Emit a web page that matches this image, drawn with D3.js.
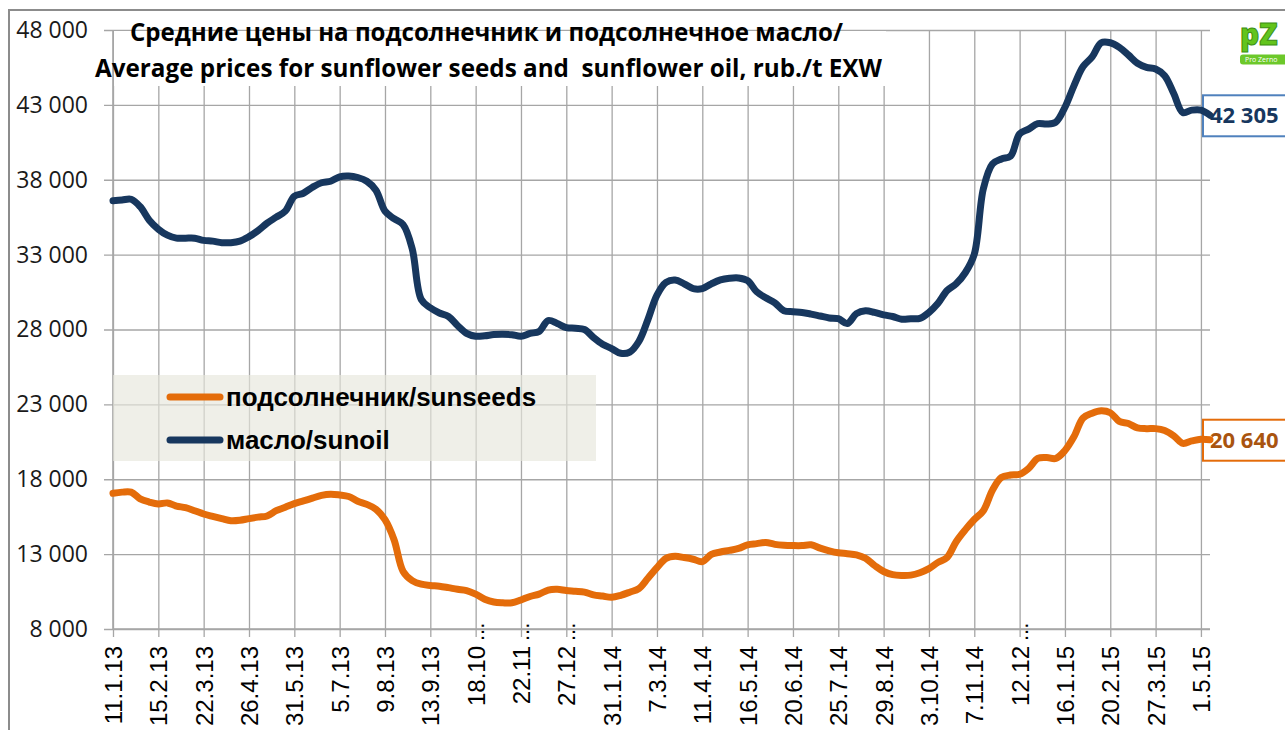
<!DOCTYPE html>
<html>
<head>
<meta charset="utf-8">
<script src="https://cdn.jsdelivr.net/npm/d3@7"></script>
<style>
  body { margin: 0; background: #fff; }
  svg { display: block; }
</style>
</head>
<body>
<div id="chart"></div>
<script>
// weekly categories 11.1.13 ... 8.5.15, every 5th one is labelled
const tickLabels = [
  '11.1.13', '15.2.13', '22.3.13', '26.4.13', '31.5.13', '5.7.13', '9.8.13', '13.9.13',
  '18.10…', '22.11…', '27.12…', '31.1.14', '7.3.14', '11.4.14', '16.5.14', '20.6.14',
  '25.7.14', '29.8.14', '3.10.14', '7.11.14', '12.12…', '16.1.15', '20.2.15', '27.3.15', '1.5.15'
];

const sunseeds = [
  17060, 17140, 17140, 16690, 16480, 16350, 16420, 16210, 16100, 15900,
  15680, 15520, 15370, 15230, 15260, 15370, 15470, 15550, 15900, 16130,
  16370, 16550, 16740, 16920, 17000, 16950, 16850, 16530, 16320, 16000,
  15300, 13960, 11840, 11230, 10990, 10910, 10860, 10760, 10650, 10570,
  10330, 9990, 9800, 9750, 9750, 9940, 10170, 10330, 10600, 10650,
  10570, 10520, 10460, 10280, 10200, 10120, 10250, 10460, 10700, 11390,
  12100, 12720, 12850, 12770, 12660, 12500, 12980, 13140, 13250, 13380,
  13620, 13700, 13780, 13650, 13590, 13570, 13570, 13620, 13400, 13220,
  13090, 13030, 12950, 12720, 12240, 11840, 11630, 11580, 11600, 11760,
  12030, 12450, 12780, 13830, 14620, 15310, 15900, 17270, 18120, 18280,
  18330, 18730, 19390, 19450, 19390, 19920, 20850, 22090, 22410, 22570,
  22440, 21860, 21720, 21430, 21380, 21380, 21250, 20900, 20400, 20560,
  20670, 20640
];

const sunoil = [
  36600, 36650, 36700, 36200, 35300, 34700, 34300, 34100, 34100, 34100,
  33950, 33900, 33800, 33800, 33900, 34200, 34600, 35100, 35500, 35900,
  36900, 37100, 37500, 37800, 37900, 38200, 38250, 38150, 37900, 37300,
  35900, 35400, 35000, 33400, 30000, 29450, 29100, 28870, 28270, 27740,
  27550, 27580, 27660, 27680, 27650, 27550, 27740, 27870, 28600, 28400,
  28130, 28080, 28000, 27470, 27020, 26730, 26410, 26490, 27200, 28660,
  30300, 31150, 31310, 31050, 30730, 30730, 31050, 31310, 31420, 31440,
  31260, 30520, 30120, 29780, 29250, 29190, 29140, 29030, 28900, 28770,
  28720, 28400, 29060, 29250, 29140, 28980, 28870, 28690, 28720, 28740,
  29140, 29750, 30600, 31050, 31790, 33030, 37400, 39050, 39390, 39580,
  41060, 41380, 41750, 41720, 41850, 42840, 44290, 45560, 46200, 47150,
  47150, 46840, 46330, 45780, 45510, 45400, 44950, 43760, 42490, 42650,
  42650, 42305
];

const yTicks = [8000, 13000, 18000, 23000, 28000, 33000, 38000, 43000, 48000];
const seriesNames = ['подсолнечник/sunseeds', 'масло/sunoil'];
const titleLines = [
  'Средние цены на подсолнечник и подсолнечное масло/',
  'Average prices for sunflower seeds and  sunflower oil, rub./t EXW'
];

(function () {
  const W = 1285, H = 730;
  const plot = { left: 113, right: 1210, top: 30, bottom: 629 };
  const gridColor = '#a6a6a6';
  const colors = { seeds: '#e46c0a', oil: '#17375e' };

  const svg = d3.select('#chart').append('svg')
    .attr('width', W).attr('height', H)
    .attr('role', 'img')
    .attr('aria-label', 'Line: average prices for sunflower seeds and sunflower oil');

  const x = d3.scaleLinear().domain([0, sunoil.length - 1]).range([plot.left, plot.right]);
  const y = d3.scaleLinear().domain([8000, 48000]).range([plot.bottom, plot.top]);

  const ru = d3.formatLocale({ decimal: ',', thousands: ' ', grouping: [3], currency: ['', ''] });
  const fmt = ru.format(',d');

  // chart frame
  svg.append('rect')
    .attr('x', 9).attr('y', 10).attr('width', W + 20).attr('height', H + 20)
    .attr('fill', '#fff').attr('stroke', '#8c8c8c').attr('stroke-width', 2);

  // horizontal grid + y labels
  const gy = svg.append('g').attr('class', 'axis y')
    .attr('transform', 'translate(104,0)')
    .call(d3.axisLeft(y).tickValues(yTicks).tickFormat(fmt)
      .tickSizeInner(-(plot.right - 104)).tickSizeOuter(0).tickPadding(16));
  gy.select('.domain').remove();
  gy.selectAll('line').attr('stroke', gridColor).attr('stroke-width', 1.3);
  gy.selectAll('text')
    .attr('fill', '#1a1a1a')
    .style('font-family', '"Open Sans", sans-serif')
    .style('font-size', '23px');

  // vertical grid + x labels
  const tickIdx = tickLabels.map((d, i) => i * 5);
  const gx = svg.append('g').attr('class', 'axis x')
    .attr('transform', 'translate(0,637)')
    .call(d3.axisBottom(x).tickValues(tickIdx)
      .tickFormat(i => tickLabels[i / 5].replace('…', ''))
      .tickSizeInner(-(637 - plot.top)).tickSizeOuter(0));
  gx.select('.domain').remove();
  gx.selectAll('line').attr('stroke', gridColor).attr('stroke-width', 1.3);
  gx.selectAll('text')
    .attr('fill', '#000')
    .attr('transform', 'rotate(-90)')
    .attr('x', -9).attr('y', 0).attr('dy', '0.35em')
    .style('text-anchor', 'end')
    .style('font-family', '"Liberation Sans", Arial, sans-serif')
    .style('font-size', '24px');
  // truncated labels: the dots sit up against the axis
  gx.selectAll('.tick').filter(i => tickLabels[i / 5].endsWith('…'))
    .append('text')
    .attr('transform', 'rotate(-90)')
    .attr('x', -4).attr('y', 0).attr('dy', '0.35em')
    .attr('fill', '#000')
    .style('text-anchor', 'start')
    .style('font-family', '"Liberation Sans", Arial, sans-serif')
    .style('font-size', '22px')
    .text('...');

  // title box over the grid
  svg.append('rect')
    .attr('x', 114).attr('y', 31).attr('width', 772).attr('height', 55)
    .attr('fill', '#fff');

  // axis lines
  svg.append('line')
    .attr('x1', plot.left).attr('x2', plot.right)
    .attr('y1', plot.bottom).attr('y2', plot.bottom)
    .attr('stroke', gridColor).attr('stroke-width', 1.6);
  svg.append('line')
    .attr('x1', plot.left).attr('x2', plot.left)
    .attr('y1', plot.top).attr('y2', plot.bottom)
    .attr('stroke', gridColor).attr('stroke-width', 1.6);

  // title
  const titleG = svg.append('g')
    .style('font-family', '"Open Sans", sans-serif')
    .style('font-weight', 700)
    .style('font-size', '25px')
    .attr('fill', '#000');
  titleG.append('text').attr('x', 130).attr('y', 41)
    .attr('textLength', 713).attr('lengthAdjust', 'spacingAndGlyphs')
    .text(titleLines[0]);
  titleG.append('text').attr('x', 95).attr('y', 77)
    .attr('textLength', 787).attr('lengthAdjust', 'spacingAndGlyphs')
    .style('white-space', 'pre')
    .text(titleLines[1]);

  // legend
  const leg = svg.append('g');
  leg.append('rect')
    .attr('x', 113).attr('y', 375).attr('width', 483).attr('height', 86)
    .attr('fill', 'rgb(230,230,220)').attr('fill-opacity', 0.65);
  const legItems = [
    { name: seriesNames[0], color: colors.seeds, y: 397 },
    { name: seriesNames[1], color: colors.oil, y: 440 }
  ];
  legItems.forEach(d => {
    leg.append('line')
      .attr('x1', 170).attr('x2', 220).attr('y1', d.y).attr('y2', d.y)
      .attr('stroke', d.color).attr('stroke-width', 7).attr('stroke-linecap', 'round');
    leg.append('text')
      .attr('x', 226).attr('y', d.y + 9)
      .attr('fill', '#000')
      .style('font-family', '"Liberation Sans", Arial, sans-serif')
      .style('font-weight', 700)
      .style('font-size', '26px')
      .text(d.name);
  });

  // end-value labels
  const last = sunoil.length - 1;
  const endLabels = [
    { value: sunoil[last], stroke: '#4f81bd', text: '#17375e' },
    { value: sunseeds[last], stroke: '#e46c0a', text: '#a9540f' }
  ];
  endLabels.forEach(d => {
    const cy = y(d.value);
    svg.append('rect')
      .attr('x', 1203).attr('y', cy - 20).attr('width', 100).attr('height', 41)
      .attr('fill', '#fff').attr('stroke', d.stroke).attr('stroke-width', 2);
    svg.append('text')
      .attr('x', 1210).attr('y', cy).attr('dy', '0.36em')
      .attr('fill', d.text)
      .style('font-family', '"Open Sans", sans-serif')
      .style('font-weight', 700)
      .style('font-size', '22px')
      .text(fmt(d.value));
  });

  // series
  const line = d3.line()
    .x((d, i) => x(i))
    .y(d => y(d))
    .curve(d3.curveCatmullRom.alpha(0.5));

  const linesG = svg.append('g').attr('class', 'lines');
  [{ values: sunoil, color: colors.oil }, { values: sunseeds, color: colors.seeds }].forEach(s => {
    linesG.append('path')
      .attr('d', line(s.values))
      .attr('fill', 'none')
      .attr('stroke', s.color)
      .attr('stroke-width', 7)
      .attr('stroke-linejoin', 'round')
      .attr('stroke-linecap', 'round');
  });

  // logo
  const logo = svg.append('g').attr('transform', 'translate(1240,18)');
  logo.append('text')
    .attr('x', 0).attr('y', 27)
    .attr('fill', '#62c41c').attr('stroke', '#3d8f12').attr('stroke-width', 1)
    .style('font-family', '"Open Sans", sans-serif')
    .style('font-weight', 800)
    .style('font-size', '30px')
    .text('pZ');
  logo.append('rect')
    .attr('x', 0).attr('y', 36.5).attr('width', 60).attr('height', 10).attr('rx', 3)
    .attr('fill', '#6cc82a');
  logo.append('text')
    .attr('x', 5).attr('y', 44)
    .attr('fill', '#fff')
    .style('font-family', '"Open Sans", sans-serif')
    .style('font-size', '7px')
    .text('Pro Zerno');
})();
</script>
</body>
</html>
